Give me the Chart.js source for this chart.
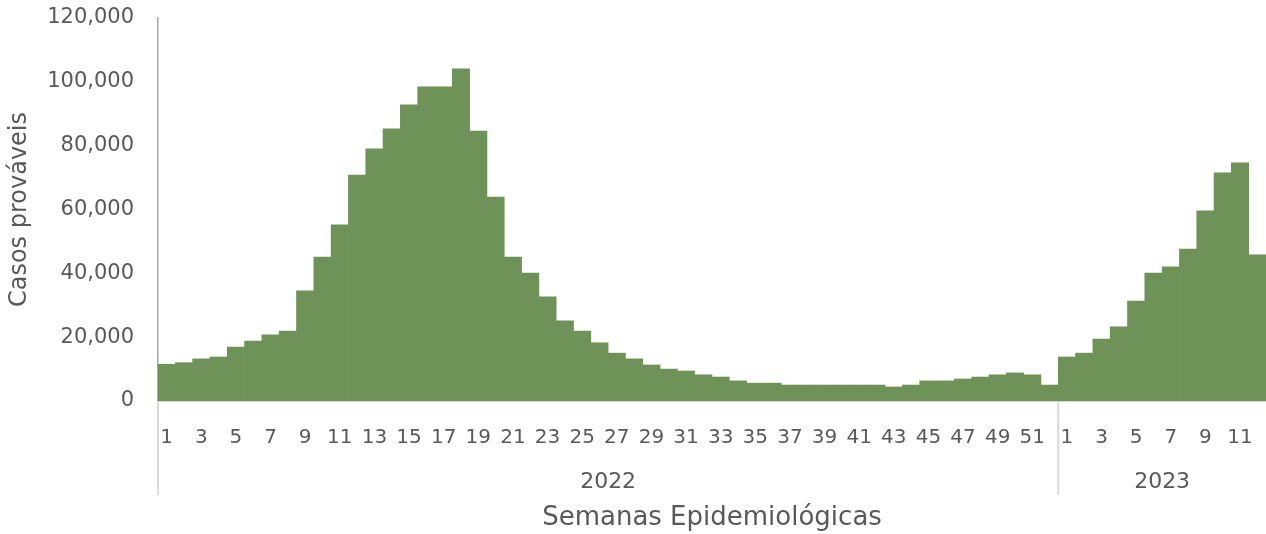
<!DOCTYPE html>
<html>
<head>
<meta charset="utf-8">
<script src="https://cdn.jsdelivr.net/npm/chart.js@4"></script>
<style>
html, body { margin: 0; padding: 0; background: #fff; }
#wrap { width: 1266px; height: 534px; }
</style>
</head>
<body>
<div id="wrap"><canvas id="c" width="1266" height="534"></canvas></div>
<script>
// semanas epidemiológicas
const weeks2022 = ['1','2','3','4','5','6','7','8','9','10','11','12','13','14','15','16','17','18','19','20',
	'21','22','23','24','25','26','27','28','29','30','31','32','33','34','35','36','37','38','39','40',
	'41','42','43','44','45','46','47','48','49','50','51','52'];
const weeks2023 = ['1','2','3','4','5','6','7','8','9','10','11','12'];
const years = ['2022', '2023'];

// casos prováveis por semana
const cases2022 = [11500, 12000, 13200, 13800, 16900, 18800, 20700, 21900, 34500, 45100,
	55200, 70800, 79000, 85300, 92800, 98400, 98400, 104100, 84600, 63900,
	45100, 40100, 32600, 25100, 21900, 18200, 15000, 13200, 11300, 10000,
	9400, 8200, 7500, 6300, 5600, 5600, 5000, 5000, 5000, 5000,
	5000, 5000, 4400, 5000, 6300, 6300, 6900, 7500, 8200, 8800,
	8200, 5000];
const cases2023 = [13800, 15000, 19400, 23200, 31300, 40100, 42000, 47600, 59600, 71500, 74600, 45800];

const yTicks = [0, 20000, 40000, 60000, 80000, 100000, 120000];

const FONT = 'DejaVu Sans';
const TXT = '#595959';

const labels = weeks2022.concat(weeks2023);
const data = cases2022.concat(cases2023);

// подписи годов под неделями + разделители
const yearGroups = {
	id: 'yearGroups',
	afterDraw(chart){
		const x = chart.scales.x;
		const ctx = chart.ctx;
		const half = (x.getPixelForValue(1) - x.getPixelForValue(0)) / 2;
		const groups = [
			{ name: years[0], from: 0, to: weeks2022.length - 1 },
			{ name: years[1], from: weeks2022.length, to: labels.length - 1 }
		];
		const top = chart.chartArea.bottom;
		ctx.save();
		ctx.strokeStyle = '#d9d9d9';
		ctx.lineWidth = 2;
		ctx.fillStyle = TXT;
		ctx.font = '22px "' + FONT + '"';
		ctx.textAlign = 'center';
		ctx.textBaseline = 'middle';
		groups.forEach(g => {
			const l = x.getPixelForValue(g.from) - half;
			const r = x.getPixelForValue(g.to) + half;
			ctx.beginPath();
			ctx.moveTo(l, top);
			ctx.lineTo(l, 495);
			ctx.stroke();
			ctx.fillText(g.name, (l + r) / 2, 482);
		});
		ctx.restore();
	}
};

new Chart(document.getElementById('c'), {
	type: 'bar',
	data: {
		labels: labels,
		datasets: [{
			data: data,
			backgroundColor: '#6e9257',
			borderWidth: 0,
			categoryPercentage: 1,
			barPercentage: 1
		}]
	},
	options: {
		responsive: false,
		animation: false,
		devicePixelRatio: 1,
		layout: { padding: { top: 18, right: 0, left: 0, bottom: 0 } },
		plugins: {
			legend: { display: false },
			tooltip: { enabled: false }
		},
		scales: {
			x: {
				grid: { display: false },
				border: { color: '#d9d9d9', width: 2 },
				ticks: {
					autoSkip: false,
					maxRotation: 0,
					padding: 17,
					color: TXT,
					font: { family: FONT, size: 20 },
					callback: (v, i) => (i % 2 === 0 ? labels[i] : '')
				},
				title: {
					display: true,
					text: 'Semanas Epidemiológicas',
					color: TXT,
					font: { family: FONT, size: 26 },
					padding: { top: 0, bottom: 0 }
				},
				afterFit(scale){
					scale.height = 133;
					scale.paddingLeft = 0;
					scale.paddingRight = 0;
				}
			},
			y: {
				min: 0,
				max: 120000,
				afterBuildTicks(scale){ scale.ticks = yTicks.map(v => ({ value: v })); },
				grid: { display: false },
				border: { color: '#a6a6a6', width: 1.5 },
				ticks: {
					padding: 16,
					color: TXT,
					font: { family: FONT, size: 21 },
					callback: v => v.toLocaleString('en-US')
				},
				title: {
					display: true,
					text: 'Casos prováveis',
					color: TXT,
					font: { family: FONT, size: 24 },
					padding: { top: 5, bottom: 0 }
				},
				afterFit(scale){
					scale.width = 158;
					scale.paddingTop = 0;
					scale.paddingBottom = 0;
				}
			}
		}
	},
	plugins: [yearGroups]
});
</script>
</body>
</html>
